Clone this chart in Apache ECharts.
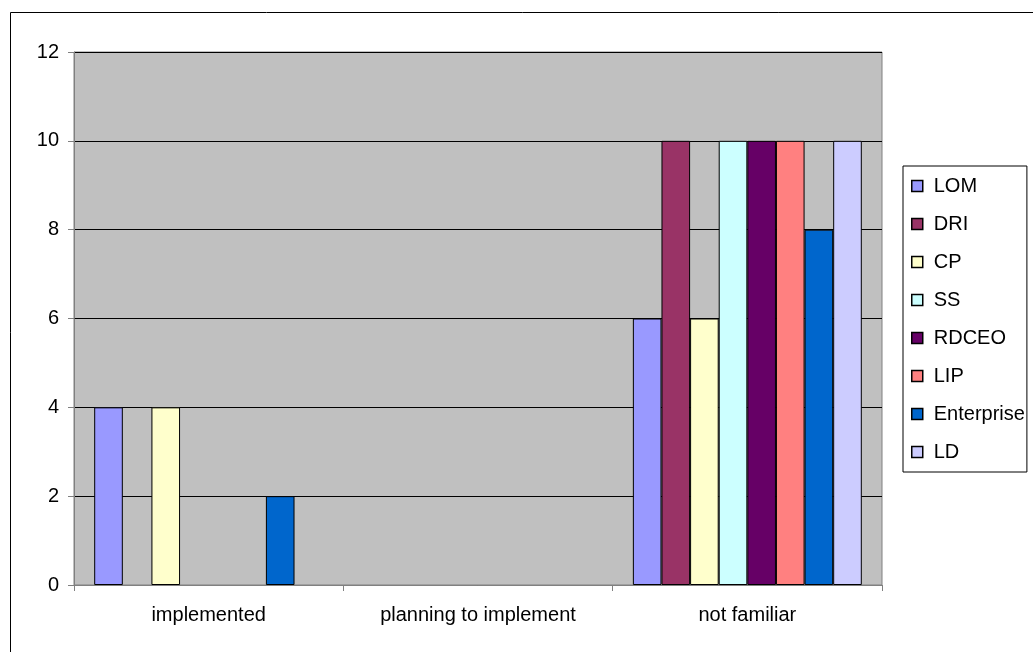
<!DOCTYPE html>
<html>
<head>
<meta charset="utf-8">
<script src="https://cdn.jsdelivr.net/npm/echarts@6/dist/echarts.min.js"></script>
<style>
  html, body { margin: 0; padding: 0; background: #fff; }
  #chart { width: 1033px; height: 652px; }
</style>
</head>
<body>
<div id="chart"></div>
<script>
'use strict'

const categories = ['implemented', 'planning to implement', 'not familiar']
const seriesNames = ['LOM', 'DRI', 'CP', 'SS', 'RDCEO', 'LIP', 'Enterprise', 'LD']
const seriesColors = ['#9999ff', '#993366', '#ffffcc', '#ccffff', '#660066', '#ff8080', '#0066cc', '#ccccff']
const lom = [4, 0, 6]
const dri = [0, 0, 10]
const cp = [4, 0, 6]
const ss = [0, 0, 10]
const rdceo = [0, 0, 10]
const lip = [0, 0, 10]
const enterprise = [2, 0, 8]
const ld = [0, 0, 10]
const seriesValues = [lom, dri, cp, ss, rdceo, lip, enterprise, ld]

const font = 'Liberation Sans, Arial, sans-serif'
const chart = echarts.init(document.getElementById('chart'))

// Zero-height bars are not drawn in the original, so skip them
const series = seriesNames.map((name, i) => {
  return {
    name,
    type: 'bar',
    data: seriesValues[i].map(v => (v === 0 ? '-' : v)),
    barGap: '0%',
    barCategoryGap: '15%',
    itemStyle: {
      color: seriesColors[i],
      borderColor: '#000',
      borderWidth: 1
    }
  }
})

chart.setOption({
  animation: false,
  graphic: [{
    type: 'rect',
    shape: { x: 10.5, y: 12.5, width: 1100, height: 700 },
    style: { fill: 'none', stroke: '#000', lineWidth: 1 },
    silent: true
  }],
  grid: {
    left: 74,
    right: 151,
    top: 52,
    bottom: 67,
    show: true,
    backgroundColor: '#c0c0c0',
    borderColor: '#808080',
    borderWidth: 1
  },
  legend: {
    orient: 'vertical',
    left: 903,
    top: 166,
    itemWidth: 11,
    itemHeight: 11,
    itemGap: 16,
    padding: [9, 2, 9, 8],
    borderColor: '#000',
    borderWidth: 1,
    icon: 'rect',
    itemStyle: { borderWidth: 1.5 },
    textStyle: { fontFamily: font, fontSize: 20, color: '#000', padding: [0, 0, 0, 6], lineHeight: 22 },
    data: seriesNames
  },
  xAxis: {
    type: 'category',
    data: categories,
    axisLine: { lineStyle: { color: '#808080', width: 1 } },
    axisTick: { show: true, length: 6, lineStyle: { color: '#808080' } },
    axisLabel: { fontFamily: font, fontSize: 20, color: '#000', margin: 20 },
    splitLine: { show: false }
  },
  yAxis: {
    type: 'value',
    min: 0,
    max: 12,
    interval: 2,
    axisLine: { show: true, lineStyle: { color: '#808080', width: 1 } },
    axisTick: { show: true, length: 6, lineStyle: { color: '#808080' } },
    axisLabel: { fontFamily: font, fontSize: 20, color: '#000', margin: 15 },
    splitLine: { show: true, lineStyle: { color: '#000', width: 1 } }
  },
  series
})
</script>
</body>
</html>
